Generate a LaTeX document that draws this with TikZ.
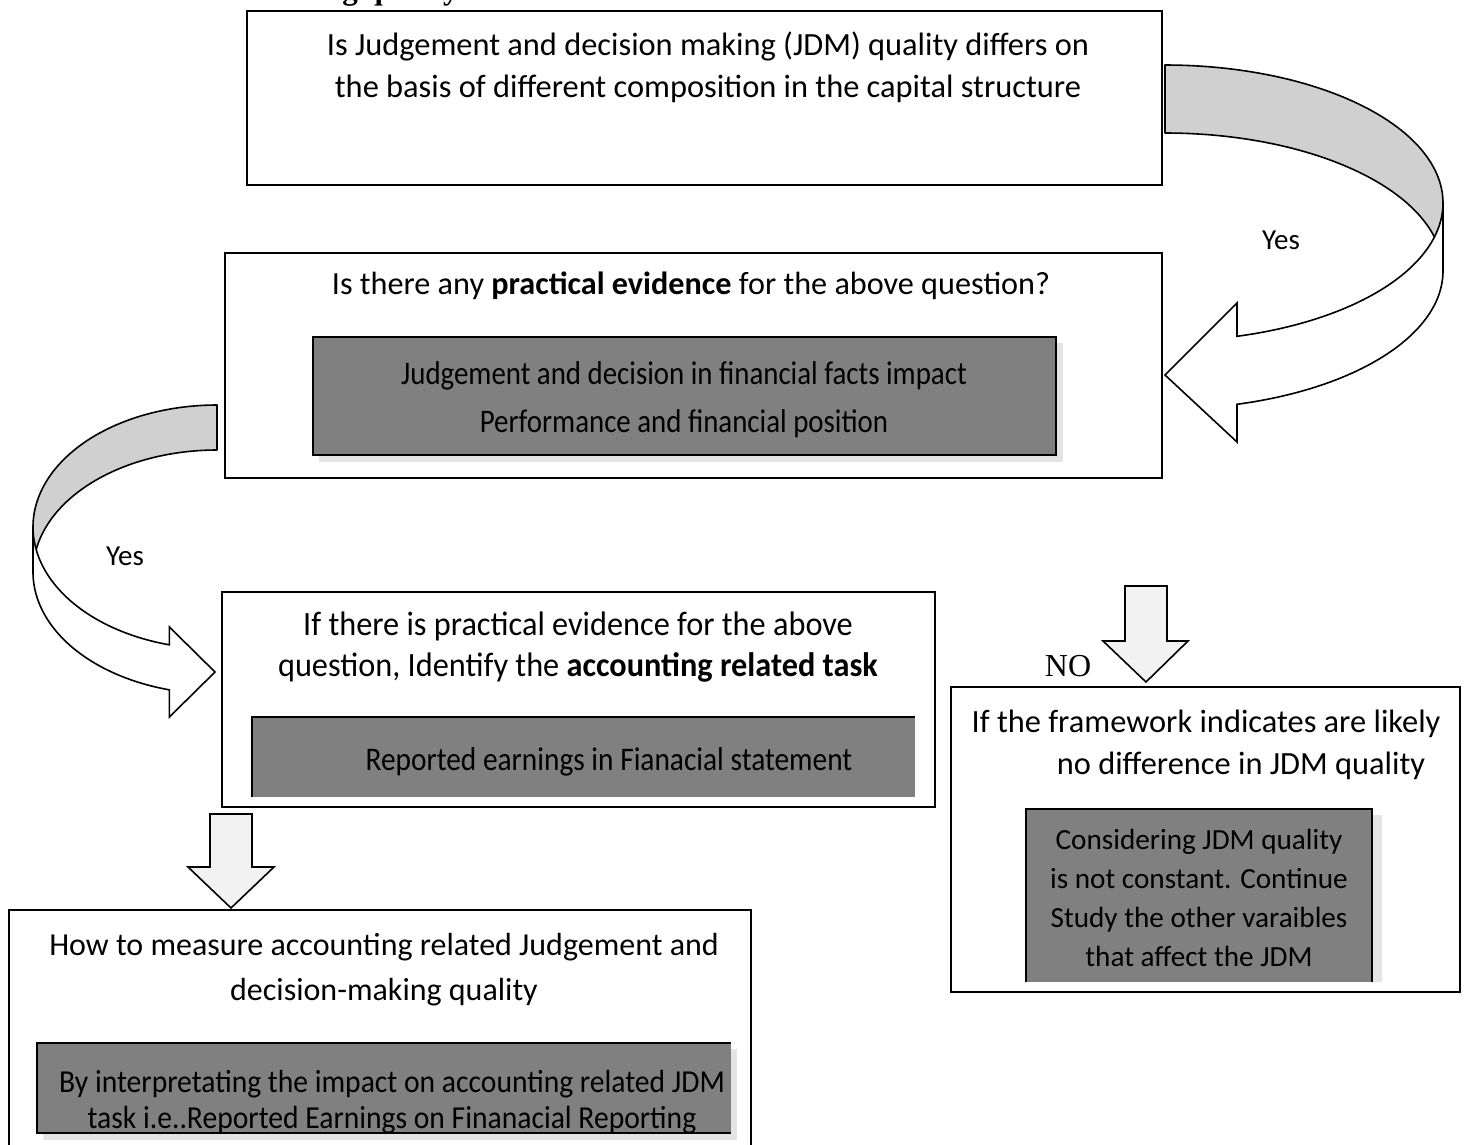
\documentclass[tikz,border=0pt]{standalone}
\usepackage{fontspec}
\setmainfont{Carlito}
\newfontfamily\condA[FakeStretch=0.875]{Carlito}
\newfontfamily\condB[FakeStretch=0.95]{Carlito}
\newfontfamily\condC[FakeStretch=0.89]{Carlito}
\newfontfamily\condD[FakeStretch=0.925]{Carlito}
\newfontfamily\timesfont{Liberation Serif}
\definecolor{boxgray}{HTML}{808080}
\definecolor{arrowfill}{HTML}{F2F2F2}
\definecolor{ribbongray}{HTML}{D0D0D0}
\definecolor{shadowgray}{HTML}{E4E4E4}
\tikzset{
  frame/.style={draw, line width=1.6pt, fill=white, inner sep=0pt, outer sep=0pt, anchor=north west},
  graybox/.style={fill=boxgray, inner sep=0pt, outer sep=0pt, anchor=north west},
  grayline/.style={line width=1.4pt},
  txt/.style={align=center, inner sep=0pt, text=black},
  blockarrow/.style={draw, line width=1.6pt, fill=arrowfill, line join=miter},
  ribbonback/.style={draw, line width=1.6pt, fill=ribbongray, line join=round},
  ribbonfront/.style={draw, line width=1.6pt, fill=white, line join=miter},
  shadowbox/.style={fill=shadowgray}
}
\begin{document}
\begin{tikzpicture}[x=1pt,y=-1pt]
\useasboundingbox (0,0) rectangle (1468,1144);

% cut-off heading fragment
\node[anchor=base west, inner sep=0pt, font=\timesfont\bfseries\fontsize{31}{36}\selectfont] (head) at (325,-1) {ng quality};

% ---------- box 1
\node[frame, minimum width=915pt, minimum height=174pt] (q1) at (247,11) {};
\node[txt, font=\fontsize{32.4}{42}\selectfont] (q1t) at (708,67)
  {Is Judgement and decision making (JDM) quality differs on\\the basis of different composition in the capital structure};

% ---------- box 2
\node[frame, minimum width=937pt, minimum height=225pt] (q2) at (225,253) {};
\node[txt, font=\fontsize{32.2}{38}\selectfont] (q2t) at (691,286)
  {Is there any \textbf{practical evidence} for the above question?};
\fill[shadowbox] (319,343) rectangle (1063,462);
\node[graybox, draw=black, line width=1.4pt, minimum width=743pt, minimum height=118pt] (g2) at (313,337) {};
\node[txt, font=\condA\fontsize{33}{48}\selectfont] (g2t) at (684,400)
  {Judgement and decision in financial facts impact\\Performance and financial position};

% ---------- box 3
\node[frame, minimum width=713pt, minimum height=215pt] (q3) at (222,592) {};
\node[txt, font=\condB\fontsize{34}{41}\selectfont] (q3t) at (578,647)
  {If there is practical evidence for the above\\question, Identify the \textbf{accounting related task}};
\node[graybox, minimum width=663pt, minimum height=80pt] (g3) at (252,717) {};
\draw[grayline] (g3.south west) -- (g3.north west) -- (g3.north east);
\node[txt, font=\condC\fontsize{33}{38}\selectfont] (g3t) at (609,762)
  {Reported earnings in Fianacial statement};

% ---------- box 4
\node[frame, minimum width=509pt, minimum height=305pt] (q4) at (951,687) {};
\node[txt, font=\fontsize{32.4}{38}\selectfont] (q4a) at (1206,724) {If the framework indicates are likely};
\node[txt, font=\fontsize{32.4}{38}\selectfont] (q4b) at (1241,766) {no difference in JDM quality};
\fill[shadowbox] (1372,815) rectangle (1382,982);
\node[graybox, minimum width=346pt, minimum height=173pt] (g4) at (1026,809) {};
\draw[grayline] (g4.south west) -- (g4.north west) -- (g4.north east) -- (g4.south east);
\node[txt, font=\fontsize{29.2}{39}\selectfont] (g4t) at (1199,898)
  {Considering JDM quality\\is not constant. Continue\\Study the other varaibles\\that affect the JDM};

% ---------- box 5
\draw[line width=1.6pt, fill=white] (9,1150) -- (9,910) -- (751,910) -- (751,1150);
\node[txt, font=\fontsize{32}{45}\selectfont] (q5t) at (384,970)
  {How to measure accounting related Judgement and\\decision-making quality};
\fill[shadowbox] (43,1049) rectangle (737,1140);
\node[graybox, minimum width=694pt, minimum height=90pt] (g5) at (37,1043) {};
\draw[grayline] (g5.north east) -- (g5.north west) -- (g5.south west) -- (g5.south east);
\node[txt, font=\condD\fontsize{32}{36}\selectfont] (g5t) at (392,1102)
  {By interpretating the impact on accounting related JDM\\task i.e..Reported Earnings on Finanacial Reporting};

% ---------- down arrows
\draw[blockarrow] (1125,586) -- (1167,586) -- (1167,641) -- (1188,641) -- (1146,682)
  -- (1103,641) -- (1125,641) -- cycle;
\node[inner sep=0pt, font=\timesfont\fontsize{32}{36}\selectfont] (no) at (1068,666) {NO};

\draw[blockarrow] (210,814) -- (252,814) -- (252,867) -- (274,867) -- (231,908)
  -- (188,867) -- (210,867) -- cycle;

% ---------- right curved arrow (Yes)
\draw[ribbonback]
  plot[domain=-90:0, samples=60] ({1165+278*cos(\x)},{203+138*sin(\x)})
  -- (1443,271)
  -- plot[domain=0:-90, samples=60] ({1165+278*cos(\x)},{271+138*sin(\x)})
  -- cycle;
\draw[ribbonfront]
  plot[domain=0:75, samples=60] ({1165+278*cos(\x)},{203+138*sin(\x)})
  -- (1237,303) -- (1165,375) -- (1237,442)
  -- plot[domain=75:0, samples=60] ({1165+278*cos(\x)},{271+138*sin(\x)})
  -- cycle;
\node[inner sep=0pt, font=\fontsize{29}{32}\selectfont] (yes1) at (1281,240) {Yes};

% ---------- left curved arrow (Yes)
\draw[ribbonback]
  plot[domain=-90:0, samples=60] ({217-184*cos(\x)},{527+122*sin(\x)})
  -- (33,572)
  -- plot[domain=0:-90, samples=60] ({217-184*cos(\x)},{572+122*sin(\x)})
  -- cycle;
\draw[ribbonfront]
  plot[domain=0:75, samples=60] ({217-184*cos(\x)},{527+122*sin(\x)})
  -- (169.4,627) -- (215,672) -- (169.4,717)
  -- plot[domain=75:0, samples=60] ({217-184*cos(\x)},{572+122*sin(\x)})
  -- cycle;
\node[inner sep=0pt, font=\fontsize{29}{32}\selectfont] (yes2) at (125,556) {Yes};
\end{tikzpicture}
\end{document}
